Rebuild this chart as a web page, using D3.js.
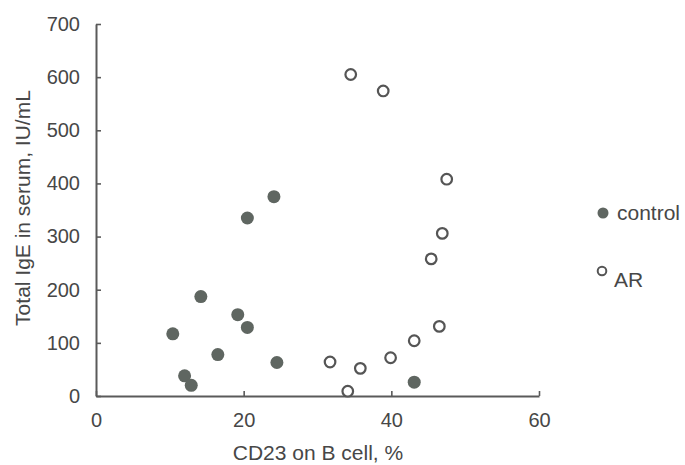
<!DOCTYPE html>
<html>
<head>
<meta charset="utf-8">
<script src="https://cdn.jsdelivr.net/npm/d3@7"></script>
<style>
  body { margin: 0; background: #fff; }
  text { font-family: "Liberation Sans", Arial, sans-serif; fill: #474747; }
</style>
</head>
<body>
<script>
// values
var controlX = [10.4, 12.0, 12.9, 14.2, 16.5, 19.2, 20.5, 20.5, 24.1, 24.5, 43.1];
var controlY = [117, 38, 20, 187, 78, 153, 129, 335, 375, 63, 26];
var arX = [34.5, 38.9, 47.5, 46.9, 45.4, 46.5, 43.1, 39.9, 31.7, 35.8, 34.1];
var arY = [605, 574, 408, 306, 258, 131, 104, 72, 64, 52, 9];
var xTicks = [0, 20, 40, 60];
var yTicks = [0, 100, 200, 300, 400, 500, 600, 700];
var seriesNames = ["control", "AR"];

var width = 685,
  height = 465;
var margin = { top: 24, right: 146, bottom: 69, left: 96 };

var svg = d3
  .select("body")
  .append("svg")
  .attr("width", width)
  .attr("height", height);

var x = d3.scaleLinear().domain([0, 60]).range([margin.left, width - margin.right]);
var y = d3.scaleLinear().domain([0, 700]).range([height - margin.bottom, margin.top]);

var axisColor = "#5a5a5a";

var gx = svg
  .append("g")
  .attr("transform", "translate(0," + y(0) + ")")
  .call(d3.axisBottom(x).tickValues(xTicks).tickSizeInner(-5).tickSizeOuter(0).tickPadding(17));

var gy = svg
  .append("g")
  .attr("transform", "translate(" + x(0) + ",0)")
  .call(d3.axisLeft(y).tickValues(yTicks).tickSizeInner(-5).tickSizeOuter(0).tickPadding(16));

[gx, gy].forEach(function(g) {
  g.select(".domain").attr("stroke", axisColor).attr("stroke-width", 2);
  g.selectAll(".tick line").attr("stroke", axisColor).attr("stroke-width", 1.6);
  g.selectAll(".tick text")
    .attr("fill", "#474747")
    .style("font-size", "20px")
    .style("font-family", "Liberation Sans, Arial, sans-serif");
});

// axis titles
svg
  .append("text")
  .attr("x", 318)
  .attr("y", 460)
  .attr("text-anchor", "middle")
  .style("font-size", "21px")
  .text("CD23 on B cell, %");

svg
  .append("text")
  .attr("transform", "translate(30,208) rotate(-90)")
  .attr("text-anchor", "middle")
  .style("font-size", "21px")
  .text("Total IgE in serum, IU/mL");

// control points
svg
  .append("g")
  .selectAll("circle")
  .data(d3.zip(controlX, controlY))
  .join("circle")
  .attr("cx", function(d) { return x(d[0]); })
  .attr("cy", function(d) { return y(d[1]); })
  .attr("r", 6.5)
  .attr("fill", "#5f6661");

// AR points
svg
  .append("g")
  .selectAll("circle")
  .data(d3.zip(arX, arY))
  .join("circle")
  .attr("cx", function(d) { return x(d[0]); })
  .attr("cy", function(d) { return y(d[1]); })
  .attr("r", 5.3)
  .attr("fill", "#fff")
  .attr("stroke", "#555")
  .attr("stroke-width", 2.2);

// legend
var legend = svg.append("g");
legend
  .append("circle")
  .attr("cx", 603)
  .attr("cy", 213)
  .attr("r", 5.5)
  .attr("fill", "#5f6661");
legend
  .append("text")
  .attr("x", 617)
  .attr("y", 220)
  .style("font-size", "21px")
  .text(seriesNames[0]);
legend
  .append("circle")
  .attr("cx", 602)
  .attr("cy", 271)
  .attr("r", 4.3)
  .attr("fill", "#fff")
  .attr("stroke", "#555")
  .attr("stroke-width", 2);
legend
  .append("text")
  .attr("x", 614)
  .attr("y", 287)
  .style("font-size", "21px")
  .text(seriesNames[1]);
</script>
</body>
</html>
